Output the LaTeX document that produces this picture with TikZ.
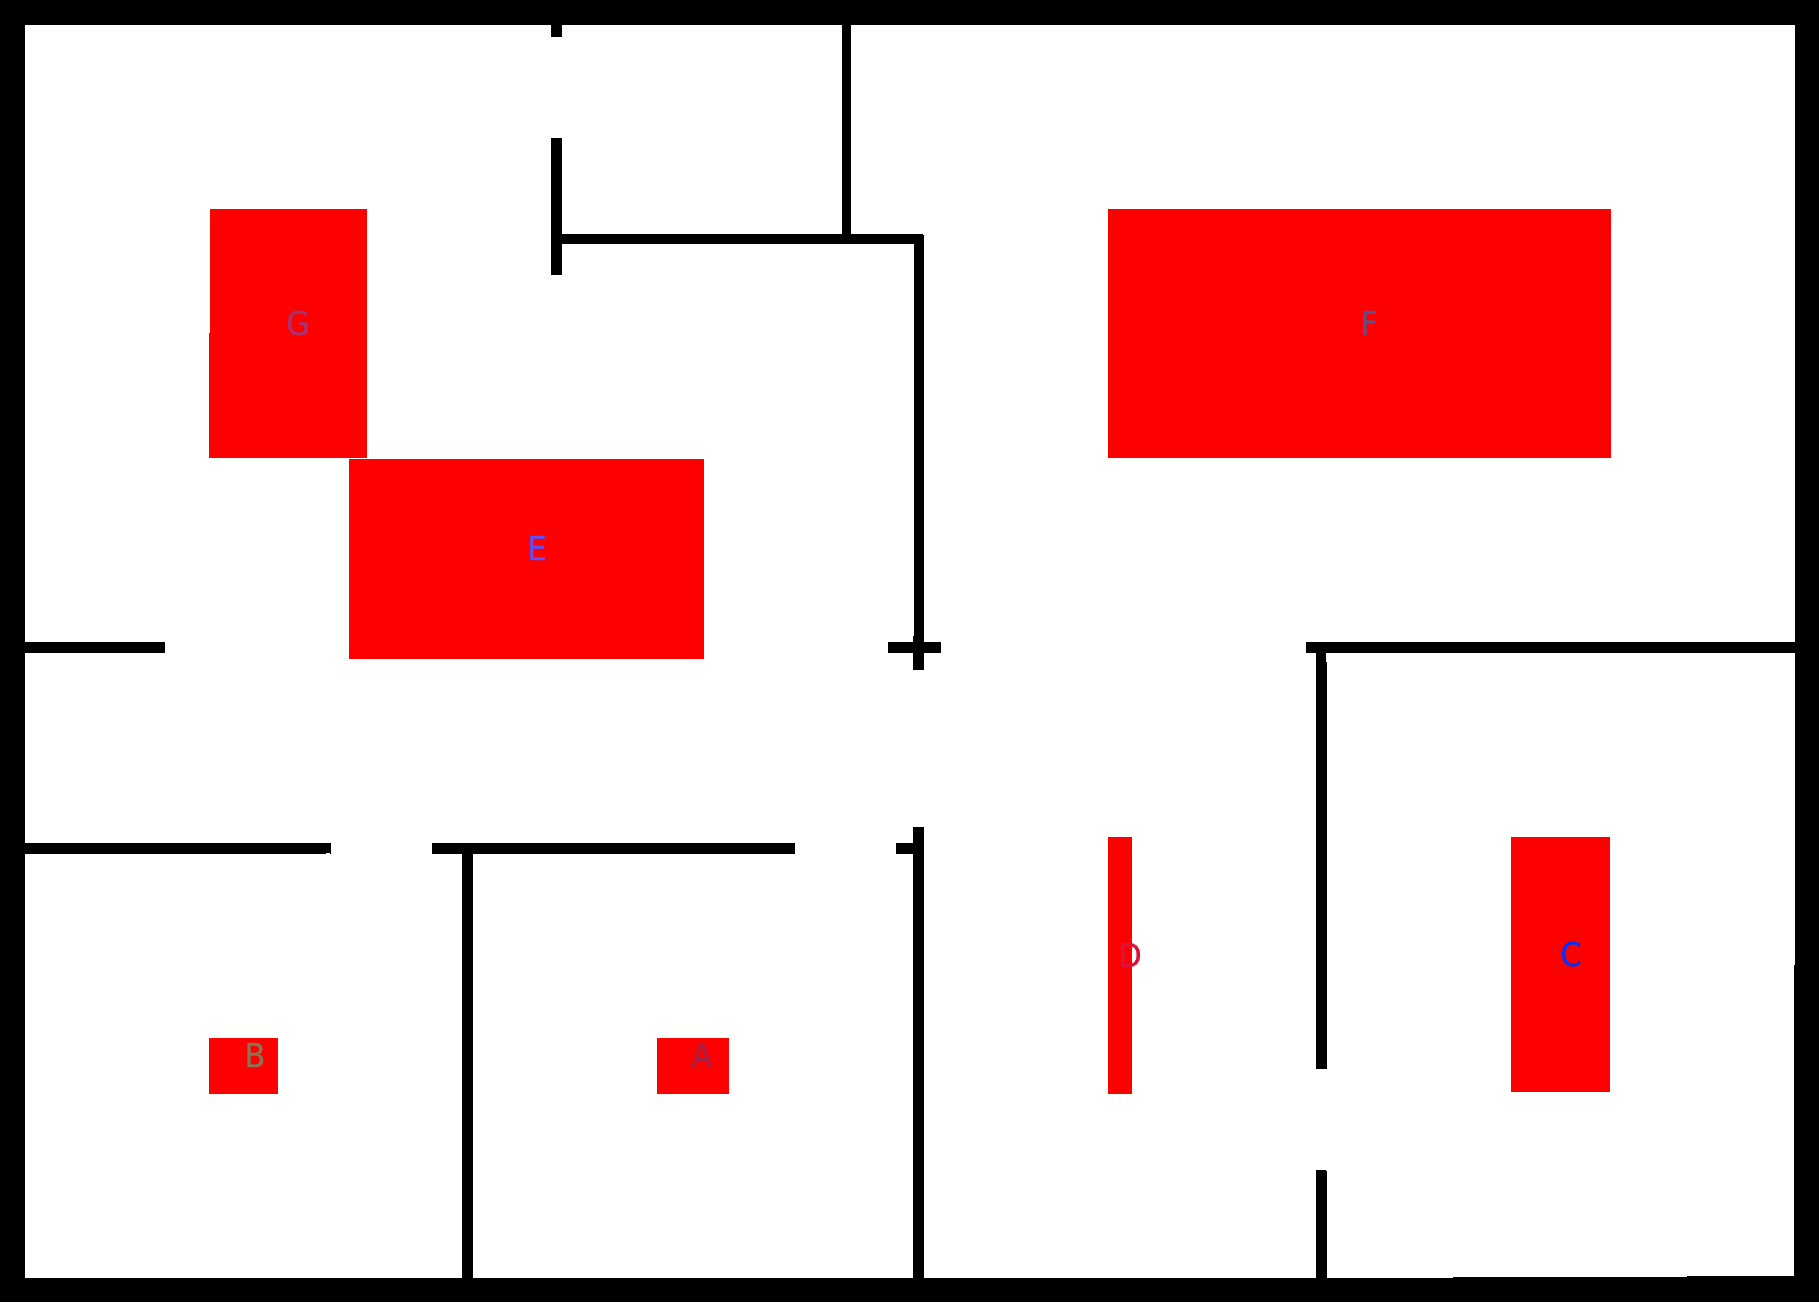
\documentclass[tikz,border=0pt]{standalone}
\usepackage{fontspec}
\setmainfont{DejaVu Sans}
\newfontfamily\tagfont[FakeBold=0.7,FakeStretch=0.92]{DejaVu Sans}
\usepackage{tikz}
\definecolor{tagA}{RGB}{170,30,70}
\definecolor{tagB}{RGB}{140,115,85}
\definecolor{tagC}{RGB}{0,50,255}
\definecolor{tagD}{RGB}{220,20,60}
\definecolor{tagE}{RGB}{90,80,255}
\definecolor{tagF}{RGB}{90,80,140}
\definecolor{tagG}{RGB}{170,50,110}
\tikzset{wall/.style={fill=black,draw=none},
  goal/.style={fill=red,draw=none},
  tag/.style={inner sep=0pt,font=\tagfont\fontsize{33}{33}\selectfont}}
\begin{document}
\begin{tikzpicture}[x=1pt,y=-1pt]
\useasboundingbox (0,0) rectangle (1819,1302);
% outer walls
\fill[wall] (0,0) rectangle (1819,25);
\fill[wall] (0,0) rectangle (25,1302);
\fill[wall] (1795,0) rectangle (1819,965);
\fill[wall] (1794,965) rectangle (1819,1302);
\fill[wall] (0,1278) rectangle (1453,1302);
\fill[wall] (1453,1277) rectangle (1687,1302);
\fill[wall] (1687,1276) rectangle (1819,1302);
% inner walls
\fill[wall] (551,0) rectangle (562,37);
\fill[wall] (551,138) rectangle (562,275);
\fill[wall] (842,0) rectangle (851,239);
\fill[wall] (562,234) rectangle (923,244);
\fill[wall] (914,235) rectangle (924,636);
\fill[wall] (913,636) rectangle (924,670);
\fill[wall] (888,642) rectangle (941,653);
\fill[wall] (25,642) rectangle (165,653);
\fill[wall] (1306,642) rectangle (1795,653);
\fill[wall] (1316,653) rectangle (1326,662);
\fill[wall] (1316,662) rectangle (1327,1069);
\fill[wall] (1316,1170) rectangle (1326,1171);
\fill[wall] (1316,1171) rectangle (1327,1278);
\fill[wall] (25,843) rectangle (326,854);
\fill[wall] (326,843) rectangle (330,853);
\fill[wall] (330,843) rectangle (331,854);
\fill[wall] (432,843) rectangle (795,854);
\fill[wall] (462,854) rectangle (473,1278);
\fill[wall] (896,843) rectangle (913,854);
\fill[wall] (913,827) rectangle (924,1278);
% red boxes
\fill[goal] (210,209) rectangle (367,333);
\fill[goal] (209,333) rectangle (367,458);
\fill[goal] (349,459) rectangle (704,659);
\fill[goal] (1108,209) rectangle (1611,458);
\fill[goal] (1511,837) rectangle (1610,1092);
\fill[goal] (1108,837) rectangle (1132,1094);
\fill[goal] (209,1038) rectangle (278,1094);
\fill[goal] (657,1038) rectangle (729,1094);
% labels
\node[tag,text=tagA] (labelA) at (702,1055) {A};
\node[tag,text=tagB] (labelB) at (255,1055) {B};
\node[tag,text=tagC] (labelC) at (1571,954) {C};
\node[tag,text=tagD] (labelD) at (1130,955) {D};
\node[tag,text=tagE] (labelE) at (537,548) {E};
\node[tag,text=tagF] (labelF) at (1369,323) {F};
\node[tag,text=tagG] (labelG) at (298,323) {G};
\end{tikzpicture}
\end{document}
